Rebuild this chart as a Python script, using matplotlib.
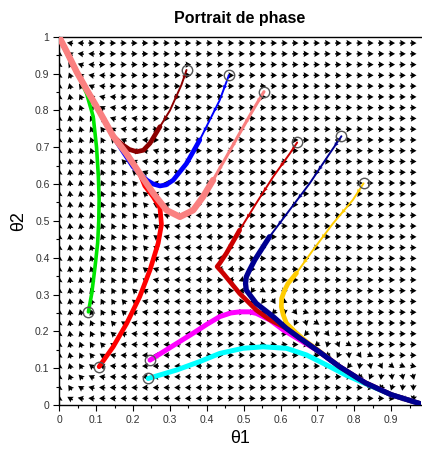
import numpy as np
import matplotlib
matplotlib.use("Agg")
import matplotlib.pyplot as plt
from matplotlib.ticker import MultipleLocator, FuncFormatter

plt.rcParams['font.family'] = ['Liberation Sans', 'DejaVu Sans']

# trajectories (theta1, theta2); the first point is the initial condition
green = np.array([(0.079, 0.253), (0.088, 0.303), (0.097, 0.376), (0.104, 0.44),
                  (0.107, 0.50), (0.108, 0.56), (0.106, 0.62), (0.101, 0.70),
                  (0.092, 0.783), (0.074, 0.846), (0.051, 0.896), (0.035, 0.93),
                  (0.015, 0.97), (0.002, 0.995)])
red = np.array([(0.108, 0.104), (0.146, 0.158), (0.183, 0.222), (0.218, 0.294),
                (0.246, 0.367), (0.268, 0.439), (0.277, 0.49), (0.273, 0.535),
                (0.255, 0.565), (0.232, 0.595), (0.218, 0.629), (0.182, 0.683),
                (0.146, 0.73), (0.11, 0.795), (0.075, 0.855), (0.047, 0.905),
                (0.02, 0.96), (0.002, 0.995)])
maroon = np.array([(0.345, 0.91), (0.331, 0.869), (0.30, 0.80), (0.273, 0.756),
                   (0.246, 0.711), (0.228, 0.692), (0.21, 0.688), (0.19, 0.694),
                   (0.17, 0.708), (0.146, 0.73), (0.11, 0.795), (0.075, 0.855),
                   (0.047, 0.905), (0.02, 0.96), (0.002, 0.995)])
blue = np.array([(0.46, 0.896), (0.435, 0.828), (0.408, 0.774), (0.381, 0.72),
                 (0.345, 0.656), (0.309, 0.611), (0.29, 0.598), (0.273, 0.595),
                 (0.255, 0.60), (0.237, 0.611), (0.20, 0.647), (0.173, 0.688),
                 (0.146, 0.73), (0.11, 0.795), (0.075, 0.855), (0.047, 0.905),
                 (0.02, 0.96), (0.002, 0.995)])
salmon = np.array([(0.555, 0.851), (0.525, 0.801), (0.489, 0.738), (0.453, 0.674),
                   (0.417, 0.611), (0.39, 0.566), (0.363, 0.529), (0.327, 0.511),
                   (0.291, 0.529), (0.255, 0.575), (0.218, 0.629), (0.182, 0.683),
                   (0.146, 0.73), (0.11, 0.795), (0.075, 0.855), (0.047, 0.905),
                   (0.02, 0.96), (0.002, 0.995)])
magenta = np.array([(0.246, 0.122), (0.318, 0.167), (0.363, 0.195), (0.40, 0.219),
                    (0.435, 0.24), (0.465, 0.25), (0.489, 0.253), (0.515, 0.253),
                    (0.534, 0.249), (0.571, 0.231), (0.607, 0.204), (0.65, 0.178),
                    (0.70, 0.148), (0.76, 0.104), (0.83, 0.06), (0.90, 0.028),
                    (0.977, 0.004)])
cyan = np.array([(0.241, 0.072), (0.318, 0.095), (0.381, 0.118), (0.435, 0.14),
                 (0.498, 0.154), (0.552, 0.158), (0.616, 0.154), (0.67, 0.136),
                 (0.724, 0.109), (0.778, 0.081), (0.83, 0.058), (0.90, 0.028),
                 (0.977, 0.004)])
yellow = np.array([(0.825, 0.602), (0.796, 0.557), (0.742, 0.493), (0.688, 0.421),
                   (0.643, 0.358), (0.62, 0.33), (0.611, 0.312), (0.603, 0.29),
                   (0.602, 0.267), (0.607, 0.245), (0.616, 0.222), (0.64, 0.198),
                   (0.67, 0.172), (0.70, 0.15), (0.76, 0.104), (0.83, 0.06),
                   (0.90, 0.028), (0.977, 0.004)])
crimson = np.array([(0.645, 0.713), (0.625, 0.683), (0.58, 0.62), (0.534, 0.548),
                    (0.489, 0.475), (0.453, 0.412), (0.435, 0.385), (0.428, 0.376),
                    (0.444, 0.358), (0.489, 0.303), (0.534, 0.258), (0.57, 0.232),
                    (0.616, 0.208), (0.65, 0.183), (0.70, 0.148), (0.76, 0.104),
                    (0.83, 0.06), (0.90, 0.028), (0.977, 0.004)])
navy = np.array([(0.765, 0.73), (0.733, 0.683), (0.679, 0.602), (0.624, 0.529),
                 (0.57, 0.457), (0.53, 0.394), (0.515, 0.365), (0.507, 0.348),
                 (0.505, 0.33), (0.507, 0.312), (0.534, 0.276), (0.58, 0.24),
                 (0.616, 0.208), (0.65, 0.183), (0.70, 0.148), (0.76, 0.104),
                 (0.83, 0.06), (0.90, 0.028), (0.977, 0.004)])

# shape of the field: slow curve, width of the band above it, boundary of the upward zone
slow_t1 = [0.0, 0.047, 0.11, 0.146, 0.182, 0.218, 0.255, 0.291, 0.327, 0.43,
           0.53, 0.60, 0.65, 0.70, 0.76, 0.83, 0.90, 0.98]
slow_t2 = [1.0, 0.905, 0.795, 0.73, 0.683, 0.629, 0.575, 0.529, 0.511, 0.37,
           0.26, 0.21, 0.183, 0.148, 0.104, 0.06, 0.028, 0.003]
band_t1 = [0.0, 0.25, 0.45, 0.98]
band_w = [0.13, 0.13, 0.05, 0.04]
up_t2 = [0.0, 0.1, 0.2, 0.3, 0.4, 0.5, 0.6, 0.7, 0.8, 0.9, 1.0]
up_t1 = [0.07, 0.10, 0.165, 0.22, 0.255, 0.275, 0.235, 0.17, 0.11, 0.05, 0.0]


def sig(z):
    return 1.0 / (1.0 + np.exp(-z))


def rhs(t1, t2):
    d = t2 - np.interp(t1, slow_t1, slow_t2)
    w = np.interp(t1, band_t1, band_w)
    above = sig(d / 0.01)
    s1 = above * np.tanh((d - w) / 0.02) + (1 - above) * np.tanh((t1 - 0.40) / 0.03)
    f1 = t1 * (1 - t1) * s1
    up = sig((np.interp(t2, up_t2, up_t1) - t1) / 0.02)
    edge = np.exp(-((d - w) / 0.03) ** 2) * above * sig((t1 - 0.55) / 0.03)
    f2 = t2 * (1 - t2) * up - 0.3 * edge
    return f1, f2


fig = plt.figure(figsize=(4.22, 4.49), dpi=100)
ax = fig.add_axes([0.1405, 0.098, 0.8565, 0.82])

# direction field
gx, gy = np.meshgrid(np.linspace(0.0, 0.96, 34), np.linspace(0.018, 0.983, 34))
u, v = rhs(gx, gy)
n = np.hypot(u, v) + 1e-12
ax.quiver(gx, gy, u / n, v / n, angles='xy', scale_units='xy', scale=1 / 0.017,
          pivot='mid', units='dots', width=1.4, headwidth=4.6, headlength=4.0,
          headaxislength=3.6, color='black', zorder=1)

# (data, colour, number of leading points on the fast thin part, thin width, thick width)
curves = [
    (green, '#00e600', 0, 1.2, 2.6),
    (red, '#ff0000', 0, 1.2, 3.4),
    (maroon, '#8c0000', 4, 1.4, 3.4),
    (blue, '#0000ff', 4, 1.4, 3.4),
    (salmon, '#fa8080', 5, 2.2, 4.6),
    (magenta, '#ff00ff', 0, 1.2, 3.6),
    (cyan, '#00ffff', 0, 1.2, 3.6),
    (yellow, '#ffcc00', 5, 1.4, 3.4),
    (crimson, '#cc0000', 5, 1.4, 3.4),
    (navy, '#000090', 5, 1.4, 3.8),
]

for k, (pts, col, nf, lw_thin, lw_thick) in enumerate(curves):
    z = 2 + k
    if nf > 0:
        fast = pts[:nf]
        ax.plot(fast[:, 0], fast[:, 1], color=col, lw=lw_thin, zorder=z,
                solid_capstyle='round')
        mid = 0.5 * (fast[1:] + fast[:-1])
        dv = fast[1:] - fast[:-1]
        dn = np.hypot(dv[:, 0], dv[:, 1])
        ax.quiver(mid[:, 0], mid[:, 1], dv[:, 0] / dn, dv[:, 1] / dn,
                  angles='xy', scale_units='xy', scale=1 / 0.012, pivot='mid',
                  units='dots', width=1.2, headwidth=4.5, headlength=4.5,
                  headaxislength=4, color=col, zorder=z)
    slow = pts[max(nf - 1, 0):]
    ax.plot(slow[:, 0], slow[:, 1], color=col, lw=lw_thick, zorder=z,
            solid_capstyle='round', solid_joinstyle='round')

# initial conditions
starts = np.array([c[0][0] for c in curves])
ax.plot(starts[:, 0], starts[:, 1], 'o', ms=7.5, mfc='none', mec='#555555',
        mew=1.0, zorder=20)

ax.set_xlim(0, 0.98)
ax.set_ylim(0, 1)
ax.xaxis.set_major_locator(MultipleLocator(0.1))
ax.yaxis.set_major_locator(MultipleLocator(0.1))
ax.xaxis.set_minor_locator(MultipleLocator(0.05))
ax.yaxis.set_minor_locator(MultipleLocator(0.05))
fmt = FuncFormatter(lambda val, pos: '%g' % round(val, 2))
ax.xaxis.set_major_formatter(fmt)
ax.yaxis.set_major_formatter(fmt)
ax.tick_params(which='major', direction='out', length=4, width=0.8,
               labelsize=7.5, labelcolor='#333333', pad=3)
ax.tick_params(which='minor', direction='out', length=2, width=0.8)
ax.spines['right'].set_visible(False)
for s in ('left', 'bottom', 'top'):
    ax.spines[s].set_linewidth(1.0)

ax.set_title('Portrait de phase', fontsize=11.5, fontweight='bold', pad=10)
ax.set_xlabel('θ1', fontsize=13, labelpad=4)
ax.set_ylabel('θ2', fontsize=13, labelpad=6)

fig.savefig('out.png', dpi=100)
